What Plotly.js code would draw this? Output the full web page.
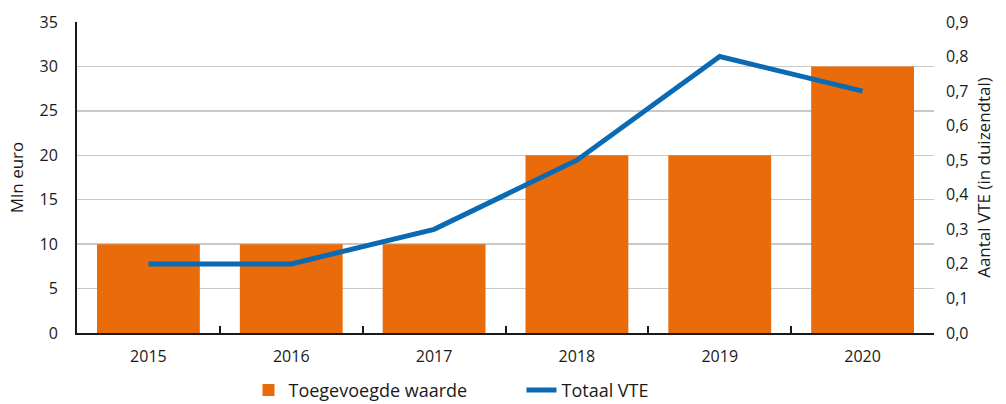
<!DOCTYPE html>
<html>
<head>
<meta charset="utf-8">
<script src="https://cdn.plot.ly/plotly-3.0.1.min.js"></script>
<style>html,body{margin:0;padding:0;background:#fff;}#chart{width:1006px;height:404px;}</style>
</head>
<body>
<div id="chart"></div>
<script>
const years = ['2015', '2016', '2017', '2018', '2019', '2020'];
const toegevoegdeWaarde = [10, 10, 10, 20, 20, 30];
const totaalVTE = [0.2, 0.2, 0.3, 0.5, 0.8, 0.7];

const traces = [
  {
    type: 'bar', name: 'Toegevoegde waarde', x: years, y: toegevoegdeWaarde,
    marker: {color: '#E96B0A'}, yaxis: 'y'
  },
  {
    type: 'scatter', mode: 'lines', name: 'Totaal VTE', x: years, y: totaalVTE,
    line: {color: '#0A6AB4', width: 5}, yaxis: 'y2'
  }
];

const font = {family: 'Open Sans, Noto Sans, sans-serif', color: '#1a1a1a', size: 16};

const layout = {
  width: 1006, height: 404,
  margin: {l: 77, r: 72, t: 22, b: 71, autoexpand: false},
  paper_bgcolor: '#fff', plot_bgcolor: '#fff',
  separators: ',.',
  font: font,
  bargap: 0.28,
  showlegend: true,
  legend: {
    orientation: 'h', xref: 'container', yref: 'container',
    x: 0.247, xanchor: 'left', y: 0.08, yanchor: 'top',
    font: {family: font.family, size: 18, color: '#1a1a1a'},
    itemwidth: 30, traceorder: 'normal', entrywidth: 228, entrywidthmode: 'pixels'
  },
  xaxis: {
    type: 'category', showgrid: false, zeroline: false,
    showline: true, linecolor: '#1a1a1a', linewidth: 2,
    ticks: 'inside', tickson: 'boundaries', ticklen: 7, tickcolor: '#1a1a1a', tickwidth: 2,
    tickfont: font, ticklabelstandoff: 8
  },
  yaxis: {
    range: [0, 35], dtick: 5, tick0: 0,
    showgrid: true, gridcolor: '#c8c8c8', gridwidth: 1.5,
    zeroline: false, showline: true, linecolor: '#1a1a1a', linewidth: 2,
    ticks: '', tickfont: font, ticklabelstandoff: 14,
    title: {text: 'Mln euro', font: {family: font.family, size: 17, color: '#1a1a1a'}, standoff: 12}
  },
  yaxis2: {
    overlaying: 'y', side: 'right',
    range: [0, 0.9], dtick: 0.1, tick0: 0, tickformat: '.1f',
    showgrid: false, zeroline: false, showline: false,
    ticks: '', tickfont: font, ticklabelstandoff: 11,
    title: {text: 'Aantal VTE (in duizendtal)', font: {family: font.family, size: 17, color: '#1a1a1a'}, standoff: 10}
  }
};

Plotly.newPlot('chart', traces, layout, {displayModeBar: false, staticPlot: true});
</script>
</body>
</html>
